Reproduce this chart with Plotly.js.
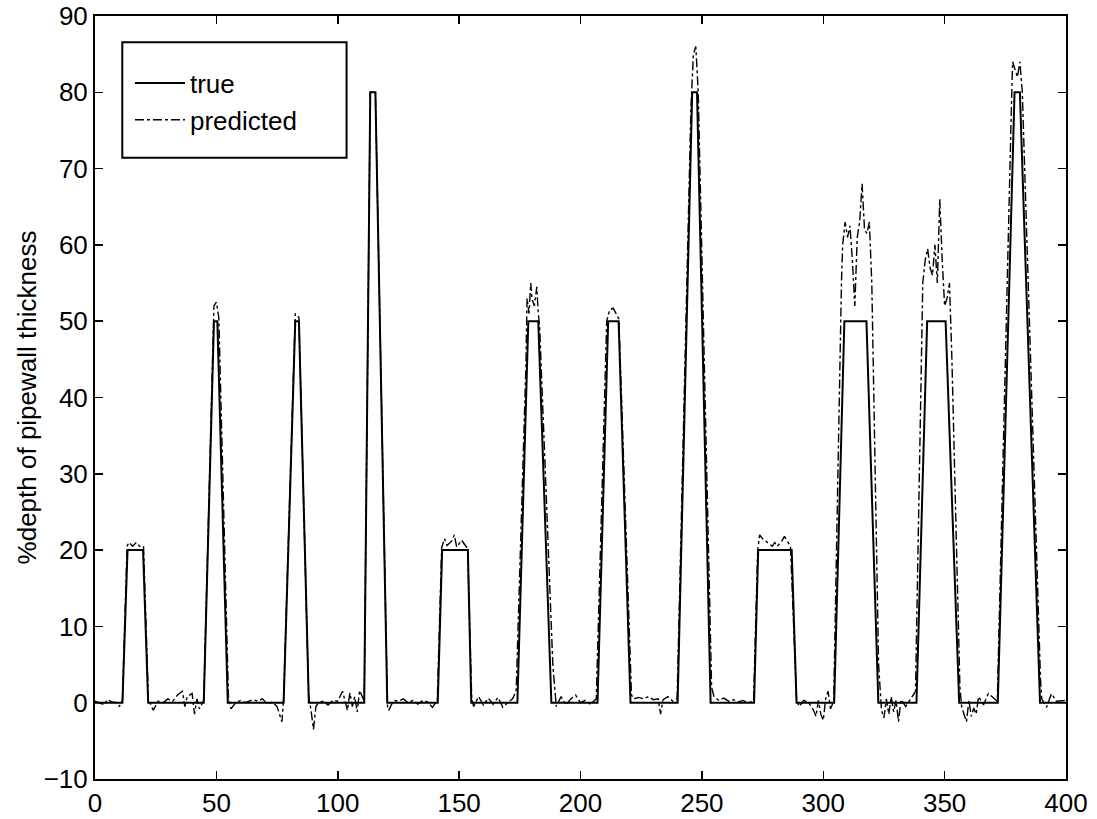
<!DOCTYPE html>
<html>
<head>
<meta charset="utf-8">
<script src="https://cdn.plot.ly/plotly-3.0.1.min.js"></script>
<style>html,body{margin:0;padding:0;background:#fff}#chart{width:1097px;height:819px}</style>
</head>
<body>
<div id="chart"></div>
<script>
// "true" defect profile (breakpoints)
const trueX = [0, 11.3, 13.4, 19.8, 21.9, 44.8, 49, 50.4, 54.7, 77.7, 82.5, 84, 88.1, 110.9, 113.4, 115.5, 120.4,
  141.2, 143, 153.6, 155, 174, 178.5, 182.6, 188, 207, 211.4, 215.7, 220.6, 240, 246, 248, 253.6,
  271.5, 273.2, 287, 289, 304.5, 308.7, 317.8, 322.7, 338.4, 342.8, 350.4, 356, 371.9, 378.8, 381, 389.3, 400];
const trueY = [0, 0, 20, 20, 0, 0, 50, 50, 0, 0, 50, 50, 0, 0, 80, 80, 0,
  0, 20, 20, 0, 0, 50, 50, 0, 0, 50, 50, 0, 0, 80, 80, 0,
  0, 20, 20, 0, 0, 50, 50, 0, 0, 50, 50, 0, 0, 80, 80, 0, 0];

// predicted profile
const predX = [0, 2, 4, 5, 7, 9, 10, 11.3,
  13.2, 14, 15.5, 17, 19, 20, 22, 24, 26, 28, 30, 32, 34, 36, 37, 38, 40, 41, 42, 43, 44.8,
  49, 50, 51, 55, 56, 58, 60, 62, 65, 67, 69, 71, 73, 75, 76, 77, 77.7,
  82.5, 84, 88, 89, 90, 91, 92, 94, 96, 98, 100, 102, 103, 104, 105, 106, 107, 108, 109, 110.9,
  113.4, 115.5, 120.5, 121, 123, 125, 127, 129, 131, 133, 135, 137, 139, 141,
  142.8, 144, 145, 147, 148, 149, 151, 153.5, 155.2, 156, 158, 160, 162, 164, 166, 168, 170, 172, 173.5,
  177.5, 178, 178.8, 179.5, 180, 181, 182, 182.5, 183.2, 188.6, 189.5, 190, 192, 194, 196, 198, 200, 202, 204, 206.5,
  210.8, 212, 213.5, 215.8, 221, 222, 224, 226, 228, 230, 232, 233, 234, 236, 238, 239.8,
  245.5, 246.5, 247.5, 248.5, 254, 255, 257, 259, 261, 263, 265, 267, 269, 271.3,
  273, 273.8, 275, 277, 279, 280, 281, 283, 284, 286.5, 289, 290, 292, 294, 296, 297, 298, 299, 300, 301, 302, 303, 304.3,
  307.5, 308, 309, 310, 311, 312, 313, 314, 315, 316, 317, 318, 319, 320, 322.8, 323.5, 324, 325, 326, 327, 328, 329, 330, 331, 332, 334, 336, 338,
  341, 342, 343, 344, 345, 346, 347, 348, 349, 350, 351, 352, 353, 356.3, 357, 358, 359, 360, 361, 362, 363, 364, 366, 368, 371.7,
  377.5, 378, 379, 380, 381, 382, 389.5, 390, 392, 394, 396, 398, 400];
const predY = [0.2, 0, -0.3, 0.4, 0.1, 0, -0.5, 0.3,
  20.5, 21, 20.5, 21, 20.3, 20.4, 0.5, -1, 0.2, 0, 0.5, 0.2, 1, 1.5, -0.5, 0.8, 1.2, -1.5, 0.5, -0.8, 0.3,
  52, 52.5, 50.5, 0.5, -0.8, 0, 0.3, 0, 0.4, 0.2, 0.5, -0.2, 0.1, -0.5, -1.5, -2.5, 0.5,
  51, 50.5, 0.8, -1, -3.5, -0.5, 0, 0.2, -0.3, 0.3, 0.2, 1.5, 0.3, -1, 1.3, -0.5, 0.8, -1.2, 1.6, 0.2,
  80, 80, -0.5, -1, 0.3, 0.2, 0.5, 0, 0.3, -0.2, 0.3, 0.1, -0.6, 0.3,
  20.3, 21.5, 20.6, 21.2, 22, 20.4, 21.3, 20.2, 0.5, -0.5, 0.8, -0.3, 0.6, -0.2, 0.7, -0.6, 0, 0.5, 1.5,
  44, 53, 51, 55, 53, 52, 54.5, 51.5, 49, 5, 1, -0.5, 0.8, -0.3, 0.5, 1, 0, 0.3, -0.2, 0.5,
  50, 51.5, 51.7, 50.3, 1, 0.5, 0.7, 0.5, 0.8, 0.4, 0.5, -1.5, 0.4, 0.8, 0.2, 0.5,
  78, 85, 86, 80, 2, 0.8, 0.3, 0.6, 0.2, 0.4, 0.1, 0.3, 0, 0.2,
  20, 22, 21.5, 21, 20.5, 21, 20.5, 21.2, 21.8, 20.5, 0.5, -0.5, 0.3, 0, -1, -1.8, 0.3, -1.5, -2.3, 0.5, 1.5, -0.8, 0.2,
  55, 60, 63, 61, 62.5, 58, 52, 61, 63, 68, 62, 61.5, 63, 55, 5, 2, -1, -2, 0.5, -1.5, 0.8, -1.2, 0.3, -2.5, 0.4, -0.5, 0.5, 1.5,
  55, 58, 59.5, 57, 56, 60, 55, 66, 58, 52, 53, 55, 45, 2, -0.5, -1.5, -2.5, 0.3, -1.8, -0.7, -1.5, 0.8, -0.3, 1.2, 0.2,
  78, 84, 83, 82, 84, 80, 3, 0.5, -0.6, 1.2, 0.2, 0.3, 0.3];

const xTicks = [0, 50, 100, 150, 200, 250, 300, 350, 400];
const yTicks = [-10, 0, 10, 20, 30, 40, 50, 60, 70, 80, 90];

const FONT = 'Liberation Sans, Arial, Helvetica, sans-serif';
const FS = 26;

const traces = [
  {x: trueX, y: trueY, type: 'scatter', mode: 'lines', name: 'true',
   line: {color: '#000', width: 2}, legendgroup: 'a'},
  {x: predX, y: predY, type: 'scatter', mode: 'lines', name: 'predicted',
   line: {color: '#000', width: 1.4, dash: 'dashdot'}, legendgroup: 'b'}
];

const axisCommon = {
  showline: true, linecolor: '#000', linewidth: 2, mirror: 'ticks',
  ticks: 'inside', ticklen: 8, tickwidth: 1.5, tickcolor: '#000',
  showgrid: false, zeroline: false, automargin: false,
  tickfont: {family: FONT, size: FS, color: '#000'}
};

const layout = {
  width: 1097, height: 819,
  margin: {l: 95, r: 30.5, t: 16, b: 40},
  paper_bgcolor: '#fff', plot_bgcolor: '#fff',
  font: {family: FONT, size: FS, color: '#000'},
  showlegend: true,
  xaxis: Object.assign({}, axisCommon, {range: [0, 400], tickvals: xTicks, ticktext: xTicks.map(String)}),
  yaxis: Object.assign({}, axisCommon, {range: [-10, 90], tickvals: yTicks, ticktext: yTicks.map(v => v < 0 ? '\u2212' + Math.abs(v) : String(v)),
    title: {text: '%depth of pipewall thickness', font: {family: FONT, size: FS, color: '#000'}, standoff: 0}}),
  legend: {x: 0.036, y: 0.943, xanchor: 'left', yanchor: 'top', bgcolor: 'rgba(0,0,0,0)',
    borderwidth: 0, font: {family: FONT, size: FS, color: '#000'}, itemwidth: 50, tracegroupgap: 6,
    traceorder: 'normal'},
  shapes: [{type: 'rect', xref: 'paper', yref: 'paper',
    x0: (122.3 - 95) / 971.5, x1: (346.7 - 95) / 971.5,
    y0: (779 - 157.7) / 763, y1: (779 - 42.3) / 763,
    line: {color: '#000', width: 2}, fillcolor: 'rgba(0,0,0,0)', layer: 'above'}]
};

Plotly.newPlot('chart', traces, layout, {displayModeBar: false, staticPlot: true});
</script>
</body>
</html>
